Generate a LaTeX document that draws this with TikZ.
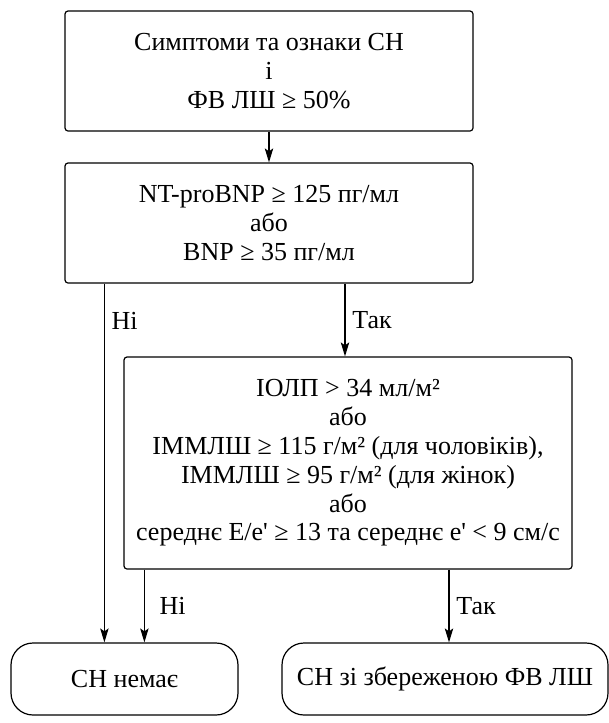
\documentclass[tikz,border=0pt]{standalone}
\usepackage{fontspec}
\setmainfont{Liberation Serif}
\usetikzlibrary{positioning,arrows,arrows.meta}
\tikzstyle{block} = [draw, line width=0.6pt, rounded corners=1.5pt, align=center, inner sep=0pt]
\tikzstyle{result} = [draw, line width=0.6pt, rounded corners=11pt, align=center, inner sep=0pt, minimum height=36pt]
\tikzstyle{conn} = [-{Stealth[length=7pt,width=4.2pt,inset=1.5pt]}, line width=0.6pt]

\begin{document}
\begin{tikzpicture}[x=0.5pt, y=-0.5pt, font=\fontsize{13}{14.4}\selectfont]
\useasboundingbox (0,0) rectangle (609,723);
    % Draw the boxes
    \node[block, minimum width=204pt, minimum height=60pt] (sympt) at (269,71)
        {Симптоми та ознаки СН\\і\\ФВ ЛШ ≥ 50\%};
    \node[block, minimum width=204pt, minimum height=60pt] (bnp) at (269,223)
        {NT-proBNP ≥ 125 пг/мл\\або\\BNP ≥ 35 пг/мл};
    \node[block, minimum width=224pt, minimum height=106pt] (echo) at (348,463)
        {ІОЛП > 34 мл/м²\\або\\ІММЛШ ≥ 115 г/м² (для чоловіків),\\ІММЛШ ≥ 95 г/м² (для жінок)\\або\\середнє E/e\textquotesingle{} ≥ 13 та середнє e\textquotesingle{} < 9 см/с};
    \node[result, minimum width=113.5pt] (none) at (124.5,679) {СН немає};
    \node[result, minimum width=163pt] (hfpef) at (445,679) {СН зі збереженою ФВ ЛШ};

    % Draw the connectors
    \coordinate (no1) at ([xshift=20pt]bnp.south west);
    \coordinate (yes1) at ([xshift=-1.5pt]echo.north);
    \coordinate (no2) at ([xshift=10.5pt]echo.south west);
    \coordinate (yes2) at ([xshift=2pt]hfpef.north);
    \draw[conn] (sympt) -- (bnp);
    \draw[conn] (no1) -- node[right, pos=0.103] {Ні} (no1 |- none.north);
    \draw[conn] (bnp.south -| yes1) -- node[right] {Так} (yes1);
    \draw[conn] (no2) -- node[right, xshift=4pt] {Ні} (no2 |- none.north);
    \draw[conn] (echo.south -| yes2) -- node[right] {Так} (yes2);
\end{tikzpicture}
\end{document}
